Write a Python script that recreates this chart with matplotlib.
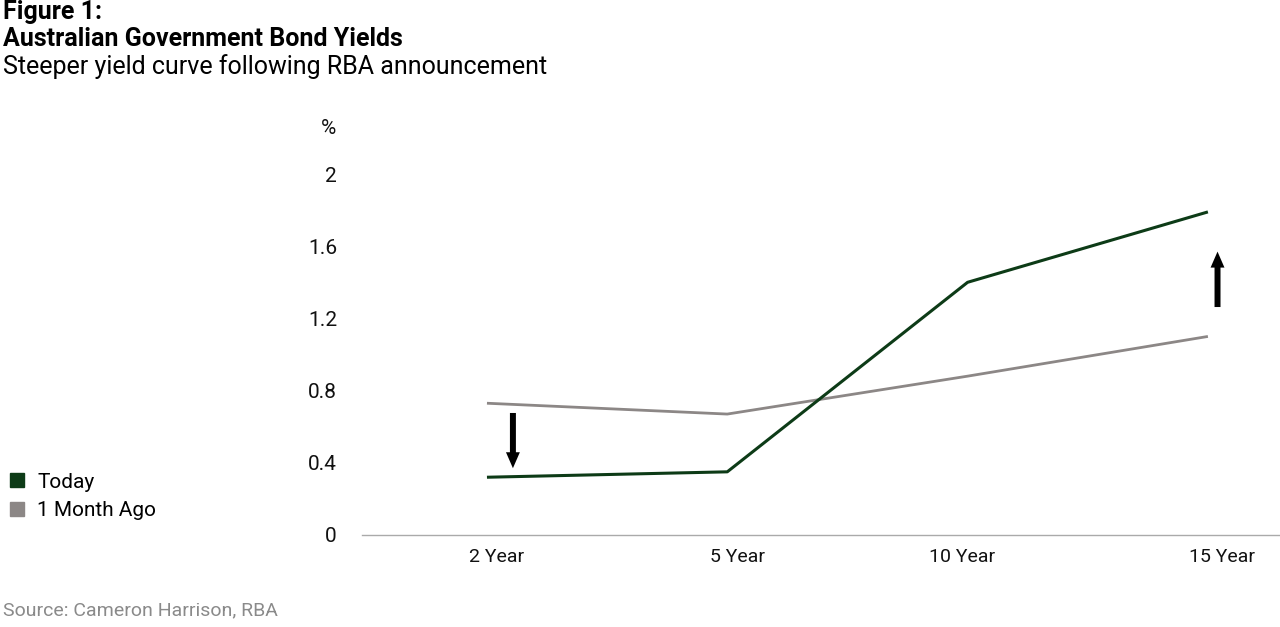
import matplotlib.pyplot as plt
import matplotlib.transforms as mtransforms
from matplotlib.lines import Line2D

# data
maturities = ['2 Year', '5 Year', '10 Year', '15 Year']
today = [0.32, 0.35, 1.40, 1.79]
month_ago = [0.73, 0.67, 0.88, 1.10]
yticks = [0, 0.4, 0.8, 1.2, 1.6, 2]

green = '#0d3b17'
grey = '#8c8786'

plt.rcParams['font.family'] = ['Roboto', 'DejaVu Sans']

fig = plt.figure(figsize=(12.8, 6.27), dpi=100)
ax = fig.add_axes([362 / 1280, 1 - 535 / 627, 1 - 362 / 1280, (535 - 174) / 627])

x = range(len(maturities))
ax.plot(x, month_ago, color=grey, lw=2.0, solid_capstyle='butt')
ax.plot(x, today, color=green, lw=2.2, solid_capstyle='butt')

ax.set_ylim(0, 2)
ax.set_xlim(-0.52, 3.30)
ax.set_yticks(yticks)
ax.set_yticklabels(['0', '0.4', '0.8', '1.2', '1.6', '2'])
ax.set_xticks(list(x))
ax.set_xticklabels(maturities)
ax.tick_params(length=0, colors='#111111')
ax.tick_params(axis='y', pad=18, labelsize=15)
ax.tick_params(axis='x', pad=9, labelsize=14)
# the category labels sit a little off the data points in the original
for lbl, dx in zip(ax.get_xticklabels(), [10, 10, -6, 14]):
    lbl.set_transform(lbl.get_transform() +
                      mtransforms.ScaledTranslation(dx / 100, 0, fig.dpi_scale_trans))
for s in ['top', 'right', 'left']:
    ax.spines[s].set_visible(False)
ax.spines['bottom'].set_color('#aaaaaa')
ax.spines['bottom'].set_linewidth(1)

ax.text(-0.66, 2.25, '%', fontsize=15, ha='center', va='center', color='#111111')

# arrows
arrow = dict(arrowstyle='simple,head_length=1.15,head_width=1.0,tail_width=0.43',
             color='black', lw=0, shrinkA=0, shrinkB=0)
ax.annotate('', xy=(0.108, 0.37), xytext=(0.108, 0.676), arrowprops=arrow)
ax.annotate('', xy=(3.04, 1.57), xytext=(3.04, 1.263), arrowprops=arrow)

# titles
fig.text(3 / 1280, 1 - 12 / 627, 'Figure 1:', fontsize=18, fontweight='bold', va='center')
fig.text(3 / 1280, 1 - 39 / 627, 'Australian Government Bond Yields', fontsize=18,
         fontweight='bold', va='center')
fig.text(3 / 1280, 1 - 67 / 627, 'Steeper yield curve following RBA announcement',
         fontsize=18, va='center')
fig.text(3 / 1280, 1 - 610 / 627, 'Source: Cameron Harrison, RBA', fontsize=14,
         color='#8a8a8a', va='center')

handles = [Line2D([], [], ls='none', marker='s', markersize=10, color=green),
           Line2D([], [], ls='none', marker='s', markersize=10, color=grey)]
fig.legend(handles, ['Today', '1 Month Ago'], loc='upper left',
           bbox_to_anchor=(-0.009, 1 - 454 / 627), frameon=False, fontsize=15,
           handlelength=0.9, handletextpad=0.55, labelspacing=0.45)

fig.savefig('out.png', dpi=100)
